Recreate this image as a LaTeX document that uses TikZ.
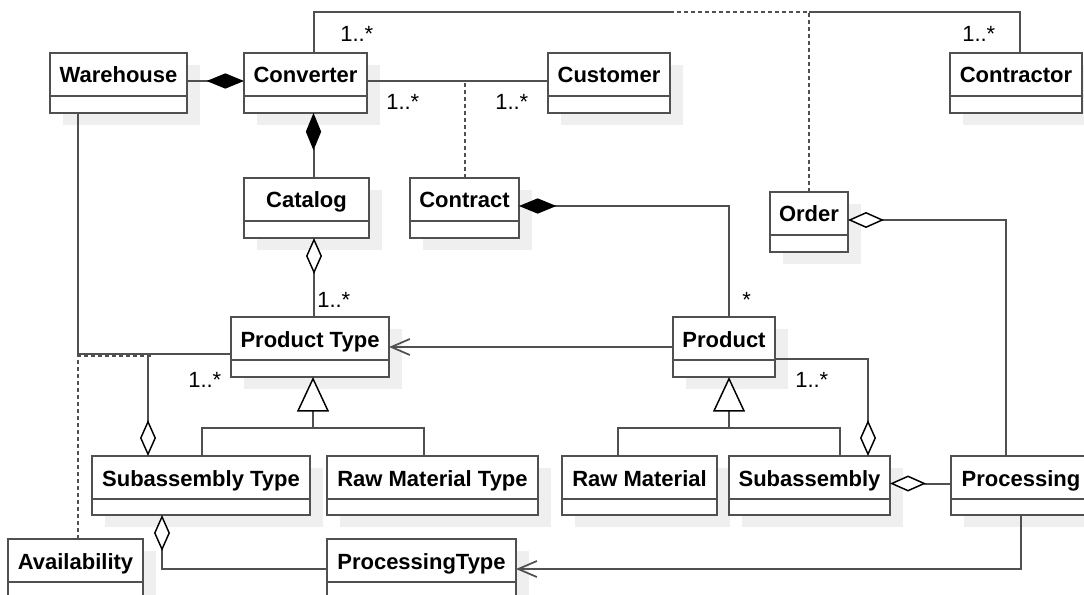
\documentclass[tikz,border=0pt]{standalone}
\usepackage{fontspec}
\setmainfont{Liberation Sans}
\usetikzlibrary{arrows.meta,fit,shadows,calc}
\definecolor{edge}{HTML}{505050}
\definecolor{shade}{HTML}{EFEFEF}
\tikzset{
  edgeline/.style={draw=edge, line width=1.5pt},
  dashline/.style={edgeline, dash pattern=on 3pt off 2.25pt},
  classbox/.style={draw=edge, line width=1.5pt, fill=white, inner sep=0pt, outer sep=0pt,
    drop shadow={shadow xshift=9.75pt, shadow yshift=-9pt, fill=shade, opacity=1}},
  classname/.style={font=\fontsize{16.5}{20}\selectfont\bfseries, inner sep=0pt, anchor=base},
  mult/.style={font=\fontsize{16.5}{20}\selectfont, inner sep=0pt, anchor=base west},
  comp/.style={edgeline, -{Diamond[length=28pt, width=11.5pt, fill=black, color=black, line width=1pt]}},
  aggr/.style={edgeline, -{Diamond[length=27pt, width=12pt, fill=white, color=black, line width=1.1pt]}},
  nav/.style={edgeline, -{Straight Barb[length=14pt, width=12pt, line width=1.3pt]}},
  gen/.style={edgeline, -{Triangle[length=26pt, width=24pt, fill=white, color=black, line width=1.1pt]}},
}
% UML class: name, left, top, right, bottom, title
\newcommand\umlclass[6]{%
  \node[classbox, fit={(#2,#3) (#4,#5)}] (#1) {};
  \draw[edgeline] ($(#1.north west)+(0,43)$) -- ($(#1.north east)+(0,43)$);
  \node[classname] at ($(#1.north)+(0,30)$) {#6};
}
\begin{document}
\begin{tikzpicture}[x=0.75pt, y=-0.75pt]
\useasboundingbox (0,0) rectangle (1084,595);
\clip (0,0) rectangle (1084,595);
\fill[white] (0,0) rectangle (1084,595);

% classes
\umlclass{Warehouse}{50}{53}{187}{113}{Warehouse}
\umlclass{Converter}{244}{53}{367}{113}{Converter}
\umlclass{Customer}{548}{53}{670}{113}{Customer}
\umlclass{Contractor}{950}{53}{1082}{113}{Contractor}
\umlclass{Catalog}{244}{178}{369}{238}{Catalog}
\umlclass{Contract}{410}{178}{519}{238}{Contract}
\umlclass{Order}{770}{192}{848}{252}{Order}
\umlclass{ProductType}{231}{317}{389}{377}{Product Type}
\umlclass{Product}{673}{317}{775}{377}{Product}
\umlclass{SubT}{92}{456}{310}{515}{Subassembly Type}
\umlclass{RawT}{327}{456}{538}{515}{Raw Material Type}
\umlclass{RawM}{562}{456}{717}{515}{Raw Material}
\umlclass{Subassembly}{729}{456}{890}{515}{Subassembly}
\umlclass{Processing}{951}{456}{1091}{515}{Processing}
\umlclass{Availability}{8}{539}{143}{599}{Availability}
\umlclass{ProcType}{327}{539}{516}{599}{ProcessingType}

% helper points on association lines
\coordinate (assocA) at (670,12);
\coordinate (assocB) at (809,12);
\coordinate (availMid) at (152,356);
\coordinate (ptjoin) at ($(ProductType.south)+(3,51)$);
\coordinate (pjoin) at ($(Product.south)+(5,51)$);

% Converter -- Contractor, with Order as association class
\draw[edgeline] ($(Converter.north)+(8,0)$) |- (assocA);
\draw[edgeline] (assocB) -| ($(Contractor.north)+(4,0)$);
\draw[dashline] (Order.north) |- (assocA);
\node[mult] at (340,42) {1..*};
\node[mult] at (962,42) {1..*};

% Warehouse <>- Converter, Converter <>- Catalog
\draw[comp] ($(Warehouse.east)+(0,-2)$) -- ($(Converter.west)+(0,-2)$);
\draw[comp] ($(Catalog.north)+(7,0)$) -- ($(Converter.south)+(8,0)$);

% Converter -- Customer, with Contract as association class
\draw[edgeline] ($(Converter.east)+(0,-2)$) -- ($(Customer.west)+(0,-2)$);
\draw[dashline] (Contract.north) -- ($(Contract.north)+(0,-97)$);
\node[mult] at (386,110) {1..*};
\node[mult] at (495,110) {1..*};

% Catalog <>- Product Type
\draw[aggr] ($(ProductType.north)+(4,0)$) -- ($(Catalog.south)+(7.5,0)$);
\node[mult] at (317,307) {1..*};

% Contract <>- Product
\draw[comp] ($(Product.north)+(5,0)$) |- ($(Contract.east)+(0,-2)$);
\node[mult] at (742,307) {*};

% Product --> Product Type
\draw[nav] (Product.west) -- (ProductType.east);

% Warehouse -- Product Type, with Availability as association class
\draw[edgeline] ($(Warehouse.south west)+(28,0)$) |- ($(ProductType.west)+(0,7)$);
\draw[dashline] ($(Availability.north)+(2.5,0)$) |- (availMid);

% Subassembly Type <>- Product Type
\draw[aggr] ($(ProductType.west)+(0,7)$) -| ($(SubT.north west)+(56,0)$);
\node[mult] at (188,387) {1..*};

% generalisations
\draw[edgeline] ($(SubT.north west)+(110,0)$) |- (ptjoin) -| ($(RawT.north west)+(97,0)$);
\draw[gen] (ptjoin) -- (ptjoin |- ProductType.south);
\draw[edgeline] ($(RawM.north west)+(56,0)$) |- (pjoin) -| ($(Subassembly.north west)+(111,0)$);
\draw[gen] (pjoin) -- (pjoin |- Product.south);

% Subassembly <>- Product
\draw[aggr] ($(Product.east)+(0,12)$) -| ($(Subassembly.north west)+(139,0)$);
\node[mult] at (795,387) {1..*};

% Order <>- Processing, Subassembly <>- Processing
\draw[aggr] ($(Processing.north west)+(55,0)$) |- ($(Order.east)+(0,-2)$);
\draw[aggr] ($(Processing.west)+(0,-2)$) -- ($(Subassembly.east)+(0,-2)$);

% Subassembly Type <>- ProcessingType, Processing --> ProcessingType
\draw[aggr] (ProcType.west) -| ($(SubT.south west)+(70,0)$);
\draw[nav] (Processing.south) |- (ProcType.east);
\end{tikzpicture}
\end{document}
